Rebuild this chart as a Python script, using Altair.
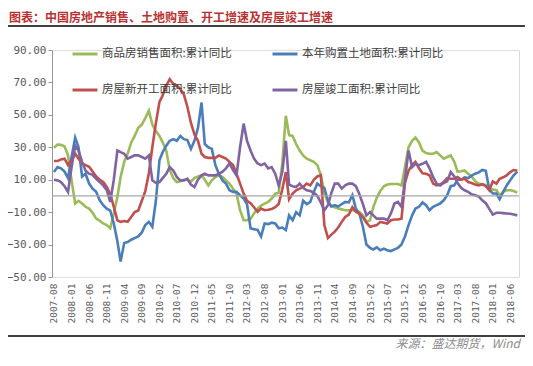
import altair as alt
import pandas as pd

# Monthly observations, 2007-08 .. 2018-08
months = [d.strftime("%Y-%m-01") for d in pd.date_range("2007-08-01", periods=133, freq="MS")]

sales = [29.7,31.7,31.5,30.5,25,9.6,-4.7,-3,-4.7,-6.7,
 -7.8,-10.4,-14,-15.3,-17,-18,-20,-10.8,-0.6,11.6,
 21,26,33,37,42,44,48,52.5,44,40,
 37,33,28,16,11,8.6,9,10,10,9,
 11,12,12.7,10,6.5,9.6,11.7,12.7,11.7,9.6,
 7.6,4.5,1.4,-8.8,-15,-15,-14,-10.8,-7.8,-6,
 -4.7,-3.7,-1.6,1.4,2,20,49.5,37.5,37,32,
 28,25,23,22,21,19,13,2,-4,-6,
 -7,-7.8,-8.3,-8.8,-8.8,-8.8,-9.3,-9.8,-12,-16,
 -15,-7,-1,3,6,7,7.4,7.4,7.4,6.5,
 17.8,30,34,36,33,28,26.5,26,26,27,
 25,23,24,25,21,15,15.2,15.7,13.7,12,
 9,7.6,7.2,6.8,5,4,3.5,0.4,2.5,3.5,
 3.5,3,2]

land = [14.7,17.8,17,15,11,24,36,30,12,13.7,
 7.6,4.5,2.5,-2.7,-5.7,-7.8,-9,-17,-28,-40.5,
 -29,-28.5,-27,-26,-25,-22.5,-18,-16,-19,-3,
 22,27,31,34,35,34,37,35,34.5,29,
 34,42,57.6,32,30,29,19,13.7,9.6,7.6,
 3.5,2.5,2.5,0.4,-1.6,-5,-20,-20.5,-21,-25,
 -17,-17.4,-16.5,-17,-20,-19.5,-21,-12,-15,-10,
 -12,-3,-5,-3.7,2.5,7.6,6,5,-3,-6.5,
 -5.7,-6.5,-5,-3.7,-4,0.4,-7.8,-11,-19,-30,
 -32,-33,-31.7,-33.5,-32.5,-33.5,-34,-33,-32,-30,
 -25,-18,-12,-7.8,-6.7,-4,-5.7,-8.8,-6.7,-5.7,
 -4.7,-2.7,0.4,6,6.5,10,10,11.5,11,12.5,
 13.7,14.5,16,15.5,4,1.5,1.5,-2,2.5,6.5,
 9.6,12.7,15]

starts = [21.5,21.5,22.5,23,19,22,26,23,20,19,
 18,15,12,10,8.6,5.5,1.4,-6.7,-15,-16,
 -15.5,-16,-13,-10,-9,-3,3,14,30,45,
 58,62,68,72,69,68,66,62.5,55,45,
 38,34,26,24,23.5,23.5,23.5,25,24,23,
 21,19,13.7,7.6,1.4,-3,-4.5,-7,-9.8,-7.8,
 -8.8,-8.5,-8,-7,-5,4,14.7,-2,1.4,3.5,
 4.5,5.5,7.6,6.5,10,12,12.7,-18,-26,-24,
 -22,-19.5,-16,-13,-11.5,-7,-9.8,-11,-13,-16.5,
 -19,-18.5,-18,-16,-16.5,-17,-15,-14.5,-14.5,-14,
 8,15.5,19,21,17,14,13.7,12.7,7.6,6.5,
 7,8.6,11,10.6,10.6,11.7,10,10.6,8.6,8,
 7,6.5,7.2,6,3.5,9,7.6,10.6,11.5,12.7,
 14.7,16,15.7]

completed = [10,9.6,8.5,6,2.5,17.8,31,28,21,15.5,
 13.7,13,10.5,8.5,6.5,3.5,-3.7,10,28,27,
 26,23,24,25,25,24,23,25,9.6,8,
 8.5,11,13.7,17.8,15.7,11.7,9.6,9.6,10.6,7,
 5.5,10,12.7,13.7,12.7,12.7,12.7,13.5,15,17,
 20,16,12.7,30,44.6,34,28,23,20,19,
 20,17,17.8,13.7,6.5,14.7,34,7,6,5.5,
 7.6,5,3.5,3,2,0,-4,-8.8,-5.7,1.4,
 7.6,7.6,4.5,6.5,7.6,7.6,6,1,-5,-12,
 -10,-12,-14,-14,-14,-15,-10.8,-4.7,-3.7,-6.7,
 10,28,17.8,19.8,19,19.8,21,17,11.7,7.6,
 6.5,8,9,14.7,12,8,5,3.5,2.5,1,
 0.4,-0.3,-2.7,-4.5,-8,-11.5,-10.4,-10.4,-10.6,-10.8,
 -11,-11.5,-12]

series_names = ["商品房销售面积:累计同比", "本年购置土地面积:累计同比",
                "房屋新开工面积:累计同比", "房屋竣工面积:累计同比"]
series_colors = ["#9BBB59", "#4A7EBB", "#C0504D", "#8064A2"]
series_values = [sales, land, starts, completed]
# legend is filled column by column: green, red | blue, purple
legend_order = [0, 2, 1, 3]

y_ticks = [-50, -30, -10, 10, 30, 50, 70, 90]
x_tick_months = months[::5]

title_text = "图表：中国房地产销售、土地购置、开工增速及房屋竣工增速"
source_text = "来源：盛达期货，Wind"

rows = []
for name, vals in zip(series_names, series_values):
    for m, v in zip(months, vals):
        rows.append({"date": m, "series": name, "value": v})
df = pd.DataFrame(rows)


def dt(s, day=1):
    y, mo = int(s[:4]), int(s[5:7])
    return alt.DateTime(year=y, month=mo, date=day, utc=True)


x_scale = alt.Scale(type="utc", domain=[dt("2007-07-01", 15), dt("2018-08-01", 16)])
y_scale = alt.Scale(domain=[-50, 90], nice=False, zero=False)

y_axis = alt.Axis(values=y_ticks, format=".2f", labelFont="DejaVu Sans Mono",
                  labelFontSize=11, labelColor="#595959", domainColor="#969696",
                  tickColor="#969696", tickSize=4, labelPadding=2, grid=False,
                  labelOverlap=False, title=None)

dom = [series_names[i] for i in legend_order]
rng = [series_colors[i] for i in legend_order]

lines = alt.Chart(df).mark_line(strokeWidth=2.6).encode(
    x=alt.X("date:T", scale=x_scale,
            axis=alt.Axis(values=[dt(s) for s in x_tick_months], format="%Y-%m",
                          labelAngle=270, labelFont="DejaVu Sans Mono", labelFontSize=9.5,
                          labelColor="#595959", domain=False, ticks=False, grid=False,
                          labelPadding=6, labelOverlap=False, labelFlush=False, title=None)),
    y=alt.Y("value:Q", scale=y_scale, axis=y_axis),
    color=alt.Color("series:N", sort=dom,
                    scale=alt.Scale(domain=dom, range=rng),
                    legend=alt.Legend(title=None, orient="none", legendX=19, legendY=-10,
                                      columns=2, symbolType="stroke", symbolSize=625,
                                      symbolStrokeWidth=3, labelFont="Noto Sans CJK SC",
                                      labelFontSize=11.5, labelColor="#404040",
                                      columnPadding=34, rowPadding=16, labelOffset=3)),
)

zero_rule = alt.Chart(pd.DataFrame({"v": [0]})).mark_rule(color="#a6a6a6", strokeWidth=1.2).encode(
    y=alt.Y("v:Q", scale=y_scale, axis=y_axis)
)

one = pd.DataFrame({"title": [title_text], "source": [source_text]})

title_mark = alt.Chart(one).mark_text(
    align="left", baseline="middle", font="Noto Sans CJK SC", fontSize=12,
    fontWeight="bold", color="#B83232"
).encode(x=alt.value(-43), y=alt.value(-32), text="title:N")

title_line = alt.Chart(one).mark_rule(color="#000000", strokeWidth=1.5).encode(
    x=alt.value(-44), x2=alt.value(481), y=alt.value(-24)
)

bottom_line = alt.Chart(one).mark_rule(color="#000000", strokeWidth=1.5).encode(
    x=alt.value(-44), x2=alt.value(481), y=alt.value(286)
)

source_mark = alt.Chart(one).mark_text(
    align="right", baseline="middle", font="Noto Sans CJK SC", fontSize=12,
    fontStyle="italic", color="#8c8c8c"
).encode(x=alt.value(468), y=alt.value(294), text="source:N")

chart = alt.layer(lines, zero_rule, title_mark, title_line, bottom_line, source_mark).properties(
    width=467, height=227,
    padding={"left": 44, "top": 42, "right": 6, "bottom": 73},
    autosize=alt.AutoSizeParams(type="none"),
).configure_view(stroke=None).configure(background="white")

chart.save("out.html", embed_options={"renderer": "svg", "actions": False})
